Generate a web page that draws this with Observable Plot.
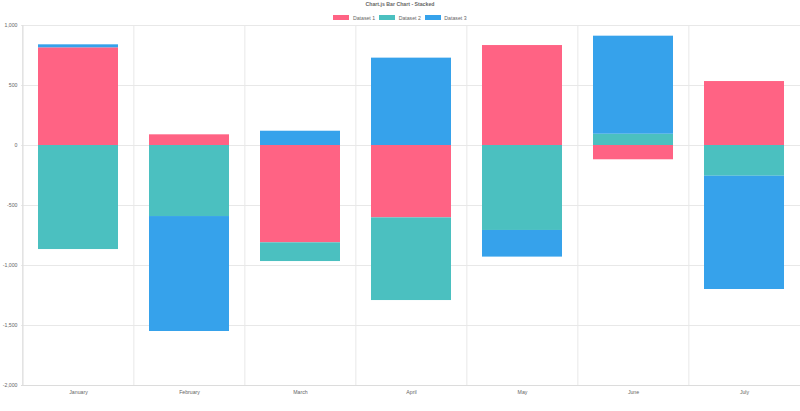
<!DOCTYPE html>
<html>
<head>
<meta charset="utf-8">
<script src="https://cdn.jsdelivr.net/npm/d3@7"></script>
<script src="https://cdn.jsdelivr.net/npm/@observablehq/plot@0.6"></script>
<style>
  html, body { margin: 0; padding: 0; background: #fff; }
  body { width: 800px; height: 411px; overflow: hidden; font-family: "Liberation Sans", Arial, sans-serif; color: #666; }
  #title { height: 11px; line-height: 9px; text-align: center; font-size: 5.2px; font-weight: bold; color: #666; }
  #legend { height: 13px; display: flex; justify-content: center; align-items: center; font-size: 5.2px; color: #666; }
  .item { display: flex; align-items: center; margin: 0 2px; }
  .box { width: 16px; height: 5px; margin-right: 3.5px; box-sizing: border-box; }
  #chart svg { display: block; }
</style>
</head>
<body>
<div id="title">Chart.js Bar Chart - Stacked</div>
<div id="legend"></div>
<div id="chart"></div>
<script>
const months = ["January", "February", "March", "April", "May", "June", "July"];
const seriesNames = ["Dataset 1", "Dataset 2", "Dataset 3"];
const seriesColors = ["#ff6384", "#4bc0c0", "#36a2eb"];
const dataset1 = [814, 89, -811, -603, 833, -119, 533];
const dataset2 = [-867, -592, -156, -689, -708, 94, -256];
const dataset3 = [25, -958, 119, 728, -222, 817, -944];
const yTicks = [-2000, -1500, -1000, -500, 0, 500, 1000];

const allSeries = [dataset1, dataset2, dataset3];
const data = [];
allSeries.forEach((vals, si) => {
  vals.forEach((v, mi) => data.push({month: months[mi], series: seriesNames[si], value: v}));
});

// legend
const legend = document.getElementById("legend");
seriesNames.forEach((n, i) => {
  const it = document.createElement("div");
  it.className = "item";
  const b = document.createElement("span");
  b.className = "box";
  b.style.background = seriesColors[i];
  const t = document.createElement("span");
  t.textContent = n;
  it.appendChild(b); it.appendChild(t);
  legend.appendChild(it);
});

const W = 800, ML = 21, MR = 0;
const step = (W - ML - MR) / months.length;

const chart = Plot.plot({
  width: W,
  height: 387,
  marginTop: 1,
  marginBottom: 26,
  marginLeft: ML,
  marginRight: MR,
  style: {fontFamily: "Liberation Sans, Arial, sans-serif", fontSize: "5.2px", color: "#666", background: "#fff", overflow: "visible"},
  x: {domain: months, paddingInner: 0.28, paddingOuter: 0.14, label: null, tickSize: 0, tickPadding: 5},
  y: {domain: [-2000, 1000], ticks: yTicks, tickFormat: d => d.toLocaleString("en-US"), label: null, tickSize: 0, tickPadding: 4},
  color: {domain: seriesNames, range: seriesColors},
  marks: [
    Plot.ruleY(yTicks, {stroke: "#e8e8e8", strokeWidth: 1}),
    Plot.ruleX(months, {x: d => d, dx: -step / 2, stroke: "#e8e8e8", strokeWidth: 1}),
    Plot.barY(data, {x: "month", y: "value", fill: "series", z: "series"}),
    Plot.ruleY([-2000], {stroke: "#dcdcdc"}),
    Plot.ruleX([months[0]], {x: d => d, dx: -step / 2, stroke: "#dcdcdc"})
  ]
});
document.getElementById("chart").appendChild(chart);
</script>
</body>
</html>
